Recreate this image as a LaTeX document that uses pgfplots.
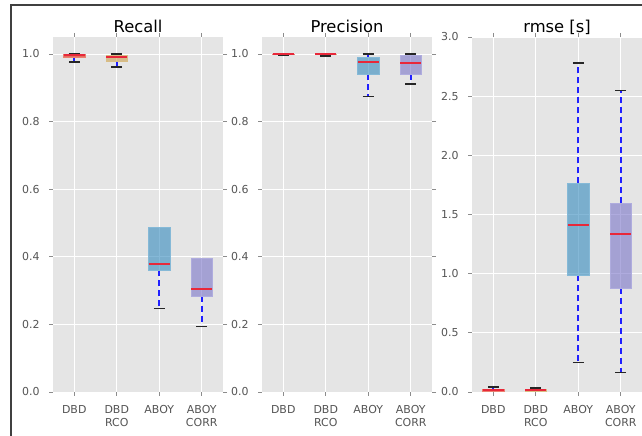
\documentclass[border=0pt]{standalone}
\usepackage{fontspec}
\setmainfont{DejaVu Sans}
\usepackage{pgfplots}
\pgfplotsset{compat=1.18}
\usepgfplotslibrary{statistics}
\definecolor{bg}{HTML}{E5E5E5}
\definecolor{tickgray}{HTML}{555555}
\definecolor{dbd}{HTML}{E24A33}
\definecolor{rco}{HTML}{C9A050}
\definecolor{aboy}{HTML}{348ABD}
\definecolor{corr}{HTML}{7A74C8}
\definecolor{med}{HTML}{E8283A}
\definecolor{wblue}{HTML}{2020FF}
\pgfplotsset{
  myax/.style={
    scale only axis, width=170bp, height=355bp, anchor=south west,
    axis background/.style={fill=bg},
    axis line style={draw=none},
    grid=major, grid style={white, line width=0.8bp},
    xmin=0.5, xmax=4.5, xtick={1,2,3,4},
    xticklabels={DBD, {DBD\\RCO}, ABOY, {ABOY\\CORR}},
    xticklabel style={align=center, font=\fontsize{11}{13.3}\selectfont, text=tickgray, yshift=-6bp},
    yticklabel style={font=\fontsize{11}{13}\selectfont, text=tickgray, xshift=-6bp,
      /pgf/number format/fixed, /pgf/number format/fixed zerofill, /pgf/number format/precision=1},
    /pgf/number format/assume math mode=true,
    tick pos=both, xticklabel pos=lower, yticklabel pos=left,
    tick align=outside, major tick length=4bp,
    tick style={color=black!45, line width=0.8bp},
    title style={font=\fontsize{16.4}{19}\selectfont, at={(0.5,1)}, anchor=base, yshift=-1bp},
    boxplot/draw direction=y,
    boxplot/box extend=0.5, boxplot/whisker extend=0.25,
    boxplot/every median/.style={draw=med, line width=2bp, draw opacity=1},
    boxplot/draw/lower whisker/.code={%
      \draw[wblue, line width=1.6bp, dash pattern=on 6bp off 4bp]
        (boxplot box cs:\pgfplotsboxplotvalue{lower quartile},0.5) -- (boxplot box cs:\pgfplotsboxplotvalue{lower whisker},0.5);
      \draw[black!85, line width=1.3bp, solid]
        (boxplot whisker cs:\pgfplotsboxplotvalue{lower whisker},0) -- (boxplot whisker cs:\pgfplotsboxplotvalue{lower whisker},1);
    },
    boxplot/draw/upper whisker/.code={%
      \draw[wblue, line width=1.6bp, dash pattern=on 6bp off 4bp]
        (boxplot box cs:\pgfplotsboxplotvalue{upper quartile},0.5) -- (boxplot box cs:\pgfplotsboxplotvalue{upper whisker},0.5);
      \draw[black!85, line width=1.3bp, solid]
        (boxplot whisker cs:\pgfplotsboxplotvalue{upper whisker},0) -- (boxplot whisker cs:\pgfplotsboxplotvalue{upper whisker},1);
    },
  },
  bdbd/.style={fill=dbd, fill opacity=0.75, draw=dbd!70},
  brco/.style={fill=rco, fill opacity=0.6, draw=rco!70},
  baboy/.style={fill=aboy, fill opacity=0.6, draw=aboy!60},
  bcorr/.style={fill=corr, fill opacity=0.6, draw=corr!60},
}
\begin{document}
\begin{tikzpicture}
\useasboundingbox (0,0) rectangle (642bp,436bp);
\clip (0,0) rectangle (642bp,436bp);
\fill[white] (0,0) rectangle (642bp,436bp);
\draw[line width=1.5bp, color=black!75] (11bp,-5bp) -- (11bp,431bp) -- (660bp,431bp);

% Recall
\begin{axis}[myax, at={(53bp,44bp)}, ymin=0, ymax=1.05, ytick={0,0.2,0.4,0.6,0.8,1.0}, title={Recall}]
\addplot[bdbd, boxplot prepared={draw position=1, lower whisker=0.976, lower quartile=0.989, median=0.996, upper quartile=0.999, upper whisker=1.0}] coordinates {};
\addplot[brco, boxplot prepared={draw position=2, lower whisker=0.961, lower quartile=0.977, median=0.992, upper quartile=0.997, upper whisker=1.0}] coordinates {};
\addplot[baboy, boxplot prepared={draw position=3, lower whisker=0.248, lower quartile=0.361, median=0.378, upper quartile=0.487, upper whisker=0.487}] coordinates {};
\addplot[bcorr, boxplot prepared={draw position=4, lower whisker=0.193, lower quartile=0.284, median=0.305, upper quartile=0.395, upper whisker=0.395}] coordinates {};
\end{axis}

% Precision
\begin{axis}[myax, at={(262bp,44bp)}, ymin=0, ymax=1.05, ytick={0,0.2,0.4,0.6,0.8,1.0}, title={Precision}]
\addplot[bdbd, boxplot prepared={draw position=1, lower whisker=0.997, lower quartile=0.999, median=1.0, upper quartile=1.0, upper whisker=1.0}] coordinates {};
\addplot[brco, boxplot prepared={draw position=2, lower whisker=0.994, lower quartile=0.998, median=1.0, upper quartile=1.0, upper whisker=1.0}] coordinates {};
\addplot[baboy, boxplot prepared={draw position=3, lower whisker=0.874, lower quartile=0.940, median=0.975, upper quartile=0.990, upper whisker=1.0}] coordinates {};
\addplot[bcorr, boxplot prepared={draw position=4, lower whisker=0.911, lower quartile=0.940, median=0.972, upper quartile=0.995, upper whisker=1.0}] coordinates {};
\end{axis}

% rmse
\begin{axis}[myax, at={(472bp,44bp)}, ymin=0, ymax=3, ytick={0,0.5,1.0,1.5,2.0,2.5,3.0}, title={rmse [s]}]
\addplot[bdbd, boxplot prepared={draw position=1, lower whisker=0.0, lower quartile=0.005, median=0.015, upper quartile=0.025, upper whisker=0.042}] coordinates {};
\addplot[brco, boxplot prepared={draw position=2, lower whisker=0.0, lower quartile=0.005, median=0.013, upper quartile=0.020, upper whisker=0.034}] coordinates {};
\addplot[baboy, boxplot prepared={draw position=3, lower whisker=0.247, lower quartile=0.99, median=1.408, upper quartile=1.762, upper whisker=2.78}] coordinates {};
\addplot[bcorr, boxplot prepared={draw position=4, lower whisker=0.162, lower quartile=0.878, median=1.333, upper quartile=1.593, upper whisker=2.547}] coordinates {};
\end{axis}
\end{tikzpicture}
\end{document}
